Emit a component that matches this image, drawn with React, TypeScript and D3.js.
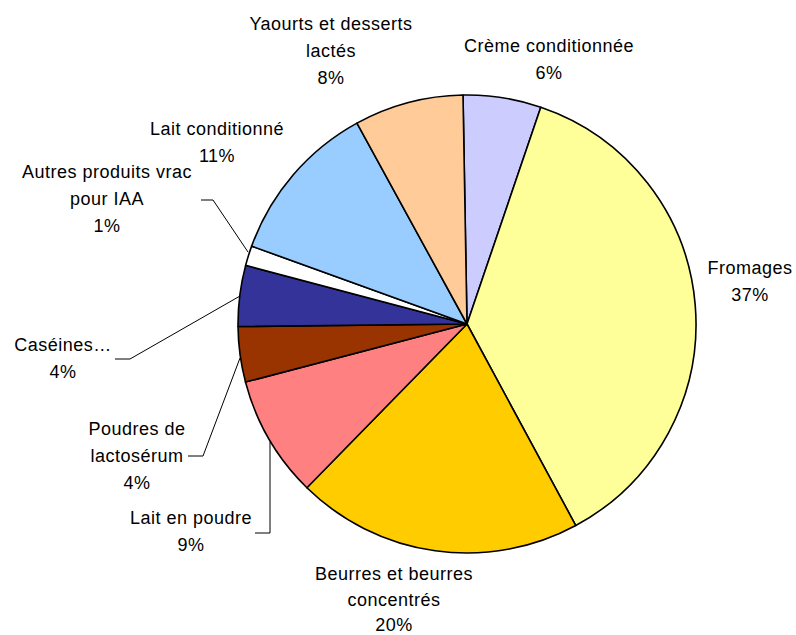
import React from "react";
import * as d3 from "d3";

const categories = [
  "Crème conditionnée",
  "Fromages",
  "Beurres et beurres concentrés",
  "Lait en poudre",
  "Poudres de lactosérum",
  "Caséines…",
  "Autres produits vrac pour IAA",
  "Lait conditionné",
  "Yaourts et desserts lactés",
];
const values = [5.5, 36.9, 20.2, 8.6, 3.9, 4.3, 1.4, 11.5, 7.7];
const percentLabels = ["6%", "37%", "20%", "9%", "4%", "4%", "1%", "11%", "8%"];
const labelLines = [
  ["Crème conditionnée"],
  ["Fromages"],
  ["Beurres et beurres", "concentrés"],
  ["Lait en poudre"],
  ["Poudres de", "lactosérum"],
  ["Caséines…"],
  ["Autres produits vrac", "pour IAA"],
  ["Lait conditionné"],
  ["Yaourts et desserts", "lactés"],
];
const colors = ["#CCCCFF", "#FFFF99", "#FFCC00", "#FF8080", "#993300", "#333399", "#FFFFFF", "#99CCFF", "#FFCC99"];

// label anchor: center x, first baseline y, line height
const labelPos: [number, number, number][] = [
  [549, 52, 27],
  [750, 274, 27],
  [394, 580, 25.5],
  [191, 524, 27],
  [137, 435, 27],
  [63, 351, 27],
  [107, 178, 27],
  [217, 135, 27],
  [331, 30, 27],
];
// leader lines (only for some slices)
const leaders: ([number, number][] | null)[] = [
  null,
  null,
  null,
  [[255, 533], [270, 533], [270, 442]],
  [[188, 456], [203, 456], [240, 358]],
  [[115, 359], [130, 359], [240, 296]],
  [[201, 200], [213, 200], [248, 252]],
  null,
  null,
];

const W = 796;
const H = 635;
const cx = 467;
const cy = 324;
const R = 229;
const startDeg = -1;

export default function App() {
  const start = (startDeg * Math.PI) / 180;
  const pie = d3
    .pie<number>()
    .sort(null)
    .value((d) => d)
    .startAngle(start)
    .endAngle(start + 2 * Math.PI);
  const arcs = pie(values);
  const arc = d3.arc<d3.PieArcDatum<number>>().innerRadius(0).outerRadius(R);
  const line = d3.line();

  return (
    <svg
      width={W}
      height={H}
      style={{ position: "absolute", left: 0, top: 0, background: "#fff" }}
      fontFamily="'Liberation Sans', Arial, sans-serif"
      fontSize={18}
    >
      <rect width={W} height={H} fill="#fff" />
      <g transform={`translate(${cx},${cy})`}>
        {arcs.map((a, i) => (
          <path key={categories[i]} d={arc(a) || ""} fill={colors[i]} stroke="#000" strokeWidth={1.6} strokeLinejoin="round" />
        ))}
      </g>
      {leaders.map((pts, i) =>
        pts ? <path key={"l" + i} d={line(pts) || ""} fill="none" stroke="#000" strokeWidth={1} /> : null
      )}
      {labelLines.map((lines, i) => {
        const [x, y, lh] = labelPos[i];
        const all = [...lines, percentLabels[i]];
        return (
          <text key={"t" + i} x={x} y={y} textAnchor="middle" fill="#000" letterSpacing={0.5}>
            {all.map((t, j) => (
              <tspan key={j} x={x} y={y + j * lh}>
                {t}
              </tspan>
            ))}
          </text>
        );
      })}
    </svg>
  );
}
